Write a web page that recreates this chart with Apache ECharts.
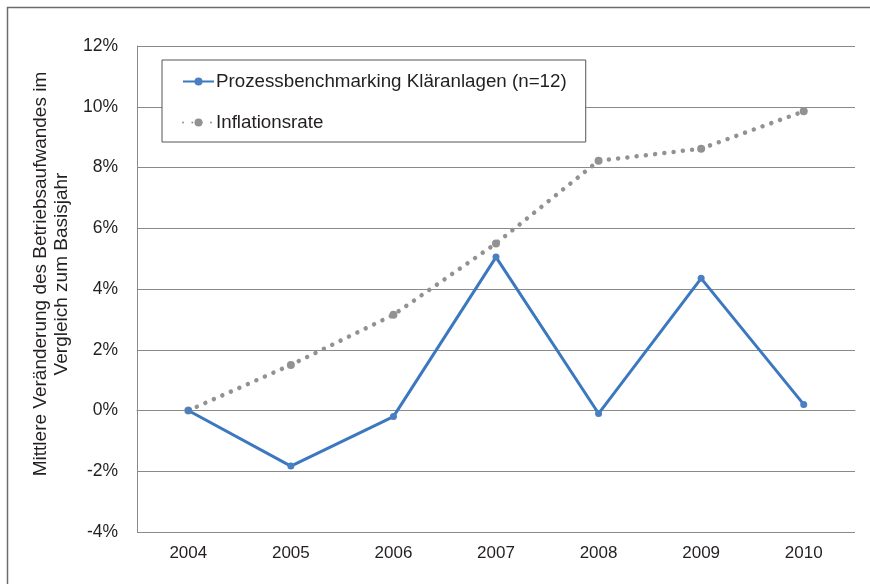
<!DOCTYPE html>
<html>
<head>
<meta charset="utf-8">
<script src="https://cdn.jsdelivr.net/npm/echarts@6/dist/echarts.min.js"></script>
<style>
  html, body { margin: 0; padding: 0; background: #fff; }
  #chart { width: 870px; height: 584px; }
</style>
</head>
<body>
<div id="chart"></div>
<script>
// Jahre und Werte (in %)
const years = ['2004', '2005', '2006', '2007', '2008', '2009', '2010']
const klaeranlagen = [0, -1.83, -0.2, 5.05, -0.1, 4.35, 0.2]
const inflation = [0, 1.5, 3.15, 5.5, 8.22, 8.62, 9.85]
const seriesNames = ['Prozessbenchmarking Kläranlagen (n=12)', 'Inflationsrate']

const textColor = '#231f20'
const font = 'Liberation Sans, Arial, sans-serif'

const myChart = echarts.init(document.getElementById('chart'))

const option = {
  animation: false,
  textStyle: { fontFamily: font },
  graphic: [
    {
      type: 'rect',
      shape: { x: 7.5, y: 7.5, width: 900, height: 620 },
      style: { fill: 'none', stroke: '#6b6b6b', lineWidth: 1.5 },
      silent: true
    }
  ],
  legend: {
    orient: 'vertical',
    left: 162,
    top: 60,
    data: seriesNames,
    backgroundColor: '#fff',
    borderColor: '#555',
    borderWidth: 1,
    borderRadius: 0,
    padding: [12, 19, 10, 20],
    itemGap: 22,
    itemWidth: 31,
    itemHeight: 10,
    textStyle: { color: textColor, fontSize: 18.75, fontFamily: font, padding: [0, 0, 0, -3] }
  },
  grid: {
    left: 137,
    top: 46,
    width: 718,
    height: 486,
    containLabel: false
  },
  xAxis: {
    type: 'category',
    data: years,
    boundaryGap: true,
    axisLine: { lineStyle: { color: '#8a8a8a', width: 1 } },
    axisTick: { show: false },
    axisLabel: { color: textColor, fontSize: 17, margin: 13 }
  },
  yAxis: {
    type: 'value',
    min: -4,
    max: 12,
    interval: 2,
    name: 'Mittlere Veränderung des Betriebsaufwandes im\nVergleich zum Basisjahr',
    nameLocation: 'middle',
    nameRotate: 90,
    nameGap: 64,
    nameTextStyle: { color: textColor, fontSize: 19, lineHeight: 21, padding: [0, 0, 0, 30] },
    axisLine: { show: true, lineStyle: { color: '#8a8a8a', width: 1 } },
    axisTick: { show: false },
    splitLine: { lineStyle: { color: '#8a8a8a', width: 1 } },
    axisLabel: { color: textColor, fontSize: 17.5, margin: 19, formatter: '{value}%' }
  },
  series: [
    {
      name: seriesNames[0],
      type: 'line',
      data: klaeranlagen,
      z: 3,
      symbol: 'circle',
      symbolSize: 7,
      lineStyle: { color: '#3b78c0', width: 3 },
      itemStyle: { color: '#4a7fc1' }
    },
    {
      name: seriesNames[1],
      type: 'line',
      data: inflation,
      z: 2,
      symbol: 'circle',
      symbolSize: 8,
      lineStyle: { color: '#929292', width: 4.5, type: [0.01, 9.3], cap: 'round' },
      itemStyle: { color: '#929292' }
    }
  ]
}

myChart.setOption(option)
</script>
</body>
</html>
